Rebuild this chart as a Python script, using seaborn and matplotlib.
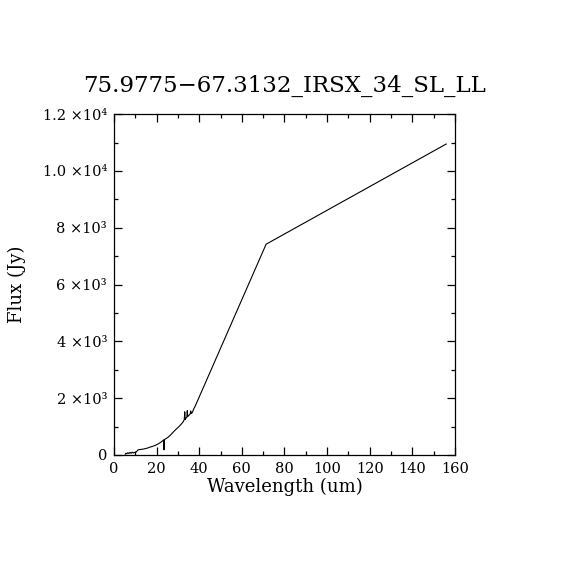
import numpy as np
import pandas as pd
import seaborn as sns
import matplotlib
matplotlib.use("Agg")
import matplotlib.pyplot as plt
from matplotlib.ticker import MultipleLocator, FixedLocator, FixedFormatter

# IRS spectrum (SL + LL) followed by MIPS 70 and 160 um points
wavelength = [5.2, 5.6, 6.0, 6.5, 7.0, 7.5, 8.0, 8.5, 9.0, 9.5, 10.0, 10.5,
              11.3, 12.0, 13.0, 14.0, 15.0, 16.0, 17.0, 18.0, 19.0, 20.0,
              21.0, 22.0, 23.0, 23.4, 23.5, 23.6, 24.5, 25.5, 26.5, 27.5,
              28.5, 29.5, 30.5, 31.5, 32.5, 33.0, 33.2, 33.4, 33.8, 34.2,
              34.4, 34.6, 35.2, 35.8, 36.0, 36.3, 36.8, 37.2, 37.6, 38.0,
              71.4, 156.0]
flux = [20, 60, 40, 80, 50, 90, 60, 100, 70, 90, 80, 110,
        180, 190, 200, 210, 230, 250, 280, 300, 330, 360,
        400, 450, 510, 530, 180, 540, 580, 630, 700, 780,
        860, 930, 1000, 1080, 1170, 1250, 1520, 1250, 1300, 1330,
        1560, 1350, 1400, 1450, 1550, 1460, 1500, 1580, 1650, 1700,
        7420, 10950]

title = "75.9775\u221267.3132_IRSX_34_SL_LL"
y_ticks = [0, 2000, 4000, 6000, 8000, 10000, 12000]
y_labels = ["0", "2 \u00d710\u00b3", "4 \u00d710\u00b3", "6 \u00d710\u00b3",
            "8 \u00d710\u00b3", "1.0 \u00d710\u2074", "1.2 \u00d710\u2074"]

df = pd.DataFrame({"wl": wavelength, "flux": flux})

sns.set_style("ticks")
plt.rcParams["font.family"] = ["DejaVu Serif"]
plt.rcParams["text.color"] = "black"
plt.rcParams["axes.labelcolor"] = "black"

fig = plt.figure(figsize=(5.7, 5.7), dpi=100)
ax = fig.add_axes([0.2, 0.2018, 0.598, 0.598])
sns.lineplot(data=df, x="wl", y="flux", sort=False, estimator=None,
             color="black", linewidth=0.8, ax=ax)

ax.set_xlim(0, 160)
ax.set_ylim(0, 12000)
ax.xaxis.set_major_locator(MultipleLocator(20))
ax.xaxis.set_minor_locator(MultipleLocator(10))
ax.yaxis.set_major_locator(FixedLocator(y_ticks))
ax.yaxis.set_major_formatter(FixedFormatter(y_labels))
ax.yaxis.set_minor_locator(MultipleLocator(1000))
ax.tick_params(which="both", direction="in", top=True, right=True,
               width=0.9, labelsize=10.5, colors="black")
ax.tick_params(which="major", length=6, pad=5)
ax.tick_params(which="minor", length=3)
for s in ax.spines.values():
    s.set_linewidth(0.9)
    s.set_color("black")

ax.set_xlabel("Wavelength (um)", fontsize=13, labelpad=1)
ax.set_ylabel("Flux (Jy)", fontsize=13, labelpad=12)
ax.set_title(title, fontsize=16.5, pad=16, color="black")

fig.savefig("out.png", dpi=100, facecolor="white")
